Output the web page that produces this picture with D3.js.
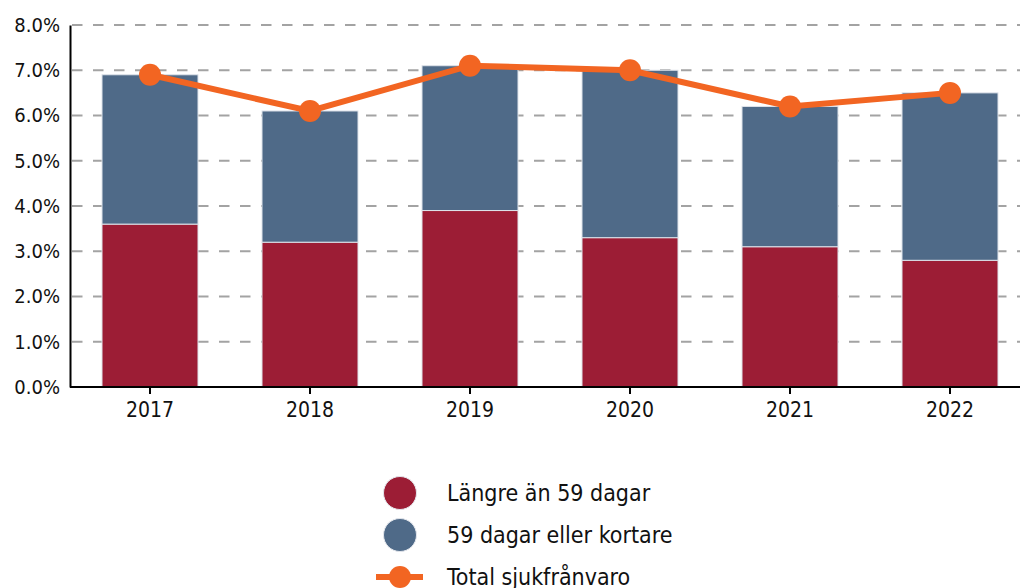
<!DOCTYPE html>
<html>
<head>
<meta charset="utf-8">
<script src="https://cdn.jsdelivr.net/npm/d3@7"></script>
<style>
  body { margin: 0; background: #fff; }
  svg text { font-family: "DejaVu Sans Condensed", "DejaVu Sans", sans-serif; font-stretch: condensed; fill: #111; }
</style>
</head>
<body>
<svg class="chart"></svg>
<script>
var width = 1020;
var height = 588;

// data (percent)
var years = ['2017', '2018', '2019', '2020', '2021', '2022'];
var longer = [3.6, 3.2, 3.9, 3.3, 3.1, 2.8];      // Längre än 59 dagar
var shorter = [3.3, 2.9, 3.2, 3.7, 3.1, 3.7];     // 59 dagar eller kortare
var total = [6.9, 6.1, 7.1, 7.0, 6.2, 6.5];       // Total sjukfrånvaro
var yTicks = [0, 1, 2, 3, 4, 5, 6, 7, 8];
var seriesNames = ['Längre än 59 dagar', '59 dagar eller kortare', 'Total sjukfrånvaro'];

var colors = {'long': '#9c1d35', 'short': '#4f6a88', 'total': '#f26522'};

var chart = d3.select(".chart")
    .attr("width", width)
    .attr("height", height);

var plot = {'left': 70, 'right': 1030, 'top': 25, 'bottom': 387};

var x = d3.scaleBand()
  .domain(years)
  .range([plot.left, plot.right])
  .paddingInner(0.4)
  .paddingOuter(0.2);

var y = d3.scaleLinear()
  .domain([0, 8])
  .range([plot.bottom, plot.top]);

// dashed gridlines
chart.append('g')
  .selectAll('line')
  .data(yTicks.filter(function(d){ return d > 0; }))
  .join('line')
    .attr('x1', plot.left)
    .attr('x2', width)
    .attr('y1', function(d){ return y(d); })
    .attr('y2', function(d){ return y(d); })
    .attr('stroke', '#a3a3a3')
    .attr('stroke-width', 2.2)
    .attr('stroke-dasharray', '10.5,10.5')
    .attr('stroke-dashoffset', -2);

// stacked bars
var stackData = years.map(function(yr, i){
  return {'year': yr, 'long': longer[i], 'short': shorter[i]};
});
var stacked = d3.stack().keys(['long', 'short'])(stackData);

chart.append('g')
  .selectAll('g')
  .data(stacked)
  .join('g')
    .attr('fill', function(d){ return colors[d.key]; })
  .selectAll('rect')
  .data(function(d){ return d; })
  .join('rect')
    .attr('x', function(d){ return x(d.data.year); })
    .attr('y', function(d){ return y(d[1]); })
    .attr('width', x.bandwidth())
    .attr('height', function(d){ return y(d[0]) - y(d[1]); })
    .attr('stroke', '#dfe3ea')
    .attr('stroke-width', 1);

// axes
var y_axis = d3.axisLeft(y)
  .tickValues(yTicks)
  .tickSize(0)
  .tickPadding(10)
  .tickFormat(function(d){ return d.toFixed(1) + '%'; });

var yg = chart.append('g')
  .attr('transform', 'translate(' + plot.left + ',0)')
  .call(y_axis);
yg.select('.domain').attr('stroke', '#000').attr('stroke-width', 2);
yg.selectAll('text').style('font-size', '20px').attr('fill', '#0a0a0a');

var x_axis = d3.axisBottom(x)
  .tickSize(7)
  .tickSizeOuter(0)
  .tickPadding(8);

var xg = chart.append('g')
  .attr('transform', 'translate(0,' + plot.bottom + ')')
  .call(x_axis);
xg.select('.domain').attr('d', 'M' + plot.left + ',0H' + width).attr('stroke', '#000').attr('stroke-width', 2);
xg.selectAll('.tick line').attr('stroke', '#000').attr('stroke-width', 2);
xg.selectAll('text').style('font-size', '21px').attr('fill', '#0a0a0a');

// total line
var line = d3.line()
  .x(function(d, i){ return x(years[i]) + x.bandwidth() / 2; })
  .y(function(d){ return y(d); });

chart.append('path')
  .datum(total)
  .attr('d', line)
  .attr('fill', 'none')
  .attr('stroke', colors.total)
  .attr('stroke-width', 6);

chart.append('g')
  .selectAll('circle')
  .data(total)
  .join('circle')
    .attr('cx', function(d, i){ return x(years[i]) + x.bandwidth() / 2; })
    .attr('cy', function(d){ return y(d); })
    .attr('r', 11)
    .attr('fill', colors.total);

// legend
var legend = chart.append('g').attr('transform', 'translate(400,493)');
var rowGap = 42;

legend.selectAll('circle.sw')
  .data(['long', 'short'])
  .join('circle')
    .attr('class', 'sw')
    .attr('cx', 0)
    .attr('cy', function(d, i){ return i * rowGap; })
    .attr('r', 16.5)
    .attr('fill', function(d){ return colors[d]; })
    .attr('stroke', '#e3e6ec')
    .attr('stroke-width', 1);

legend.append('line')
  .attr('x1', -24).attr('x2', 23)
  .attr('y1', rowGap * 2).attr('y2', rowGap * 2)
  .attr('stroke', colors.total)
  .attr('stroke-width', 6);
legend.append('circle')
  .attr('cx', 0).attr('cy', rowGap * 2)
  .attr('r', 11)
  .attr('fill', colors.total);

legend.selectAll('text')
  .data(seriesNames)
  .join('text')
    .attr('x', 47)
    .attr('y', function(d, i){ return i * rowGap; })
    .attr('dy', '0.36em')
    .style('font-size', '23px')
    .text(function(d){ return d; });
</script>
</body>
</html>
